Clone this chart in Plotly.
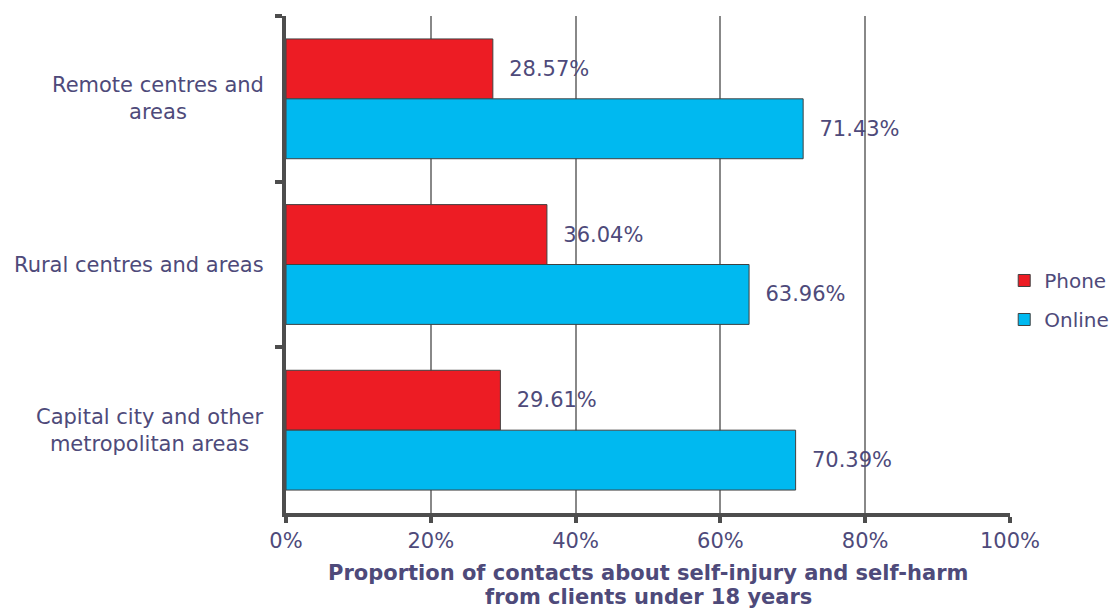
import plotly.graph_objects as go

categories = ["Remote centres and<br>areas", "Rural centres and areas", "Capital city and other<br>metropolitan areas"]
phone = [28.57, 36.04, 29.61]
online = [71.43, 63.96, 70.39]
x_ticks = [0, 20, 40, 60, 80, 100]
x_ticklabels = ["0%", "20%", "40%", "60%", "80%", "100%"]
x_title_lines = ["Proportion of contacts about self-injury and self-harm",
                 "from clients under 18 years"]

TXT = "#4E4A7A"
FONT = "DejaVu Sans"
FS = 21
pad = "\u00a0\u00a0"

fig = go.Figure()
fig.add_trace(go.Bar(
    name="Phone", y=categories, x=phone, orientation="h",
    marker=dict(color="#ED1C24", line=dict(color="#404040", width=1)),
    text=[pad + f"{v:.2f}%" for v in phone], textposition="outside",
    textfont=dict(color=TXT, size=FS, family=FONT), constraintext="none",
    cliponaxis=False, legendgroup="a"))
fig.add_trace(go.Bar(
    name="Online", y=categories, x=online, orientation="h",
    marker=dict(color="#00B9F0", line=dict(color="#404040", width=1)),
    text=[pad + f"{v:.2f}%" for v in online], textposition="outside",
    textfont=dict(color=TXT, size=FS, family=FONT), constraintext="none",
    cliponaxis=False, legendgroup="b"))

for c in categories:
    fig.add_annotation(x=-0.028, xref="paper", y=c, yref="y", text=c,
                       xanchor="right", yanchor="middle", align="center",
                       showarrow=False, font=dict(color=TXT, size=FS, family=FONT))

for i, line in enumerate(x_title_lines):
    fig.add_annotation(x=0.5, xref="paper", y=0, yref="paper", yshift=-60 - 24 * i,
                       text="<b>" + line + "</b>", xanchor="center", yanchor="middle",
                       showarrow=False, font=dict(color=TXT, size=FS, family=FONT))

fig.update_layout(
    width=1118, height=608,
    margin=dict(l=286, r=108, t=16, b=95, autoexpand=False),
    paper_bgcolor="white", plot_bgcolor="white",
    barmode="group", bargap=0.277, bargroupgap=0,
    font=dict(family=FONT, color=TXT, size=FS),
    showlegend=True,
    legend=dict(x=0.992, xanchor="left", y=0.4286, yanchor="middle",
                traceorder="grouped", tracegroupgap=10,
                bgcolor="rgba(0,0,0,0)",
                font=dict(size=20, color=TXT, family=FONT)),
    xaxis=dict(range=[0, 100], tickvals=x_ticks, ticktext=x_ticklabels,
               showgrid=True, gridcolor="#888888", gridwidth=2,
               showline=True, linecolor="#4D4D4D", linewidth=4,
               ticks="outside", ticklen=6, tickwidth=4, tickcolor="#4D4D4D",
               zeroline=False,
               tickfont=dict(size=FS, color=TXT, family=FONT)),
    yaxis=dict(autorange="reversed", showticklabels=False,
               showline=True, linecolor="#4D4D4D", linewidth=4,
               ticks="outside", tickson="boundaries", ticklen=7, tickwidth=4,
               tickcolor="#4D4D4D", showgrid=False, zeroline=False),
)

fig.write_html("out.html")
